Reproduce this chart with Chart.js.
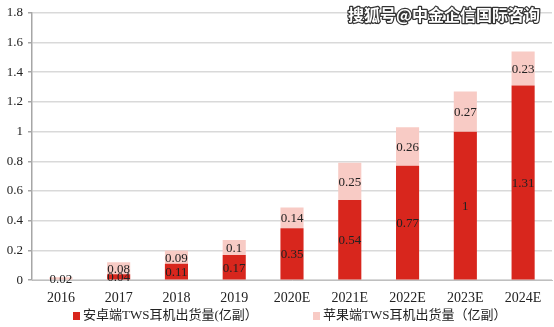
<!DOCTYPE html>
<html>
<head>
<meta charset="utf-8">
<script src="https://cdn.jsdelivr.net/npm/chart.js@4/dist/chart.umd.min.js"></script>
<style>
  html, body { margin: 0; padding: 0; background: #fff; }
  #wrap { width: 554px; height: 327px; position: relative; }
</style>
</head>
<body>
<div id="wrap"><canvas id="chartTws"></canvas></div>
<script>
  // shipment data, 100 million pairs
  const years = ["2016", "2017", "2018", "2019", "2020E", "2021E", "2022E", "2023E", "2024E"];
  const androidUnits = [0, 0.04, 0.11, 0.17, 0.35, 0.54, 0.77, 1, 1.31];
  const appleUnits = [0.02, 0.08, 0.09, 0.1, 0.14, 0.25, 0.26, 0.27, 0.23];
  const yTicks = [0, 0.2, 0.4, 0.6, 0.8, 1, 1.2, 1.4, 1.6, 1.8];

  const serif = "'Liberation Serif', 'Times New Roman', serif";

  /* ==========================
     VALUE LABELS ON BARS
  ========================== */
  const barValues = {
    id: "barValues",
    afterDatasetsDraw(chart) {
      const ctx = chart.ctx;
      ctx.save();
      ctx.font = "13px " + serif;
      ctx.fillStyle = "#222";
      ctx.textAlign = "center";
      ctx.textBaseline = "middle";
      chart.data.datasets.forEach((ds, i) => {
        chart.getDatasetMeta(i).data.forEach((bar, j) => {
          const v = ds.data[j];
          if (!v) return;
          const mid = (bar.y + bar.base) / 2;
          ctx.fillText(String(v), bar.x, Math.min(mid + 1, chart.chartArea.bottom + 2));
        });
      });
      ctx.restore();
    },
  };

  /* ==========================
     LEGEND (bottom row, two items)
  ========================== */
  const bottomLegend = {
    id: "bottomLegend",
    afterDraw(chart) {
      const ctx = chart.ctx;
      const xs = [73, 313];
      const y = 316;
      ctx.save();
      ctx.font = "13px " + serif + ", 'Noto Sans CJK SC'";
      ctx.textBaseline = "middle";
      chart.data.datasets.forEach((ds, i) => {
        ctx.fillStyle = ds.backgroundColor;
        ctx.fillRect(xs[i], y - 4, 7, 8);
        ctx.fillStyle = "#222";
        ctx.fillText(ds.label, xs[i] + 10, y);
      });
      ctx.restore();
    },
  };

  /* ==========================
     WATERMARK
  ========================== */
  const watermark = {
    id: "watermark",
    afterDraw(chart) {
      const ctx = chart.ctx;
      ctx.save();
      ctx.font = "bold 16px 'Noto Sans CJK SC', sans-serif";
      ctx.textAlign = "right";
      ctx.textBaseline = "middle";
      ctx.lineJoin = "round";
      ctx.lineWidth = 2.5;
      ctx.strokeStyle = "#333";
      ctx.strokeText("搜狐号@中金企信国际咨询", 540, 15);
      ctx.fillStyle = "#fff";
      ctx.fillText("搜狐号@中金企信国际咨询", 540, 15);
      ctx.restore();
    },
  };

  function createTwsChart(ctx) {
    return new Chart(ctx, {
      type: "bar",
      data: {
        labels: years,
        datasets: [
          {
            label: "安卓端TWS耳机出货量(亿副）",
            data: androidUnits,
            backgroundColor: "#d8261d",
            barPercentage: 0.4,
            categoryPercentage: 1,
          },
          {
            label: "苹果端TWS耳机出货量（亿副）",
            data: appleUnits,
            backgroundColor: "#f8cbc5",
            barPercentage: 0.4,
            categoryPercentage: 1,
          },
        ],
      },
      options: {
        responsive: true,
        maintainAspectRatio: false,
        animation: false,
        layout: { padding: { top: -3, right: 2, left: 0, bottom: 18 } },
        scales: {
          x: {
            stacked: true,
            grid: { display: false },
            border: { color: "#bfbfbf" },
            ticks: { color: "#222", font: { family: serif, size: 14 }, padding: 2, autoSkip: false, maxRotation: 0 },
          },
          y: {
            stacked: true,
            min: 0,
            max: 1.8,
            afterBuildTicks(axis) {
              axis.ticks = yTicks.map((v) => ({ value: v }));
            },
            afterFit(axis) {
              axis.width = 32;
            },
            grid: { color: "#d9d9d9", lineWidth: 1.5, tickLength: 4, tickColor: "#a6a6a6" },
            border: { color: "#a6a6a6", width: 1.5 },
            ticks: {
              color: "#222",
              font: { family: serif, size: 13 },
              padding: 5,
              callback: (v) => String(v),
            },
          },
        },
        plugins: {
          legend: { display: false },
          tooltip: { enabled: false },
        },
      },
      plugins: [barValues, bottomLegend, watermark],
    });
  }

  try {
    createTwsChart(document.getElementById("chartTws").getContext("2d"));
  } catch (e) {
    console.warn("Chart init failed", e);
  }
</script>
</body>
</html>
